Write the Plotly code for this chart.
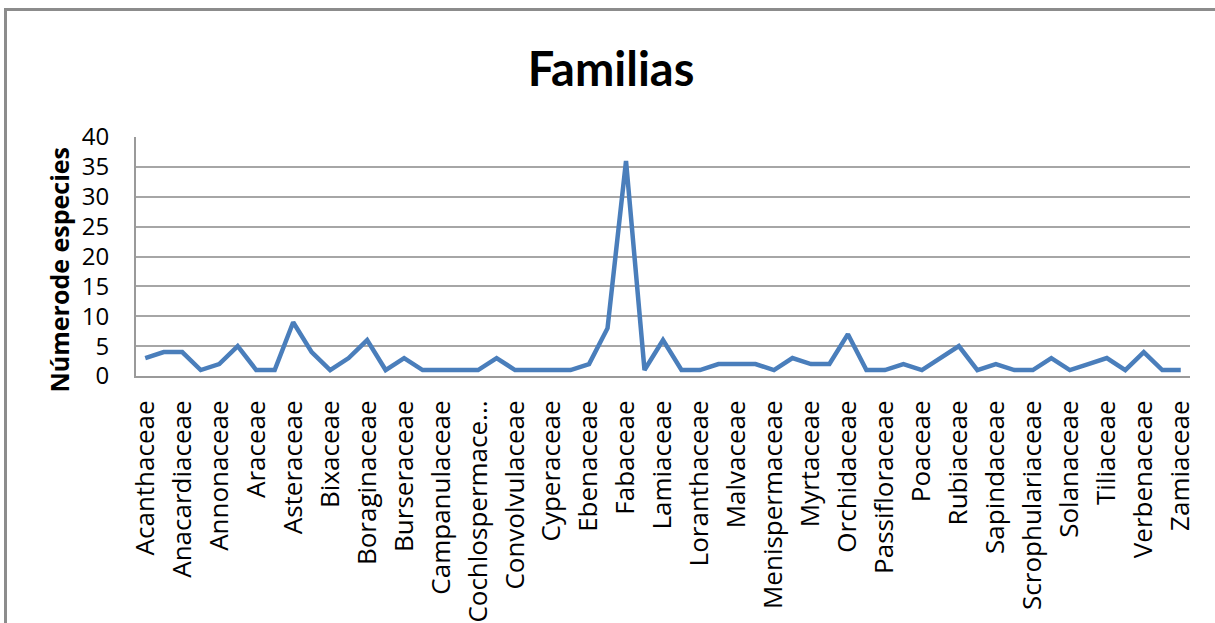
import plotly.graph_objects as go

familias = [
    "Acanthaceae", "Amaranthaceae", "Anacardiaceae", "Anemiaceae", "Annonaceae",
    "Apocynaceae", "Araceae", "Arecaceae", "Asteraceae", "Bignoniaceae",
    "Bixaceae", "Bombacaceae", "Boraginaceae", "Bromeliaceae", "Burseraceae",
    "Cactaceae", "Campanulaceae", "Capparaceae", "Cochlospermaceae", "Combretaceae",
    "Convolvulaceae", "Cucurbitaceae", "Cyperaceae", "Dilleniaceae", "Ebenaceae",
    "Euphorbiaceae", "Fabaceae", "Flacourtiaceae", "Lamiaceae", "Lauraceae",
    "Loranthaceae", "Malpighiaceae", "Malvaceae", "Melastomataceae", "Menispermaceae",
    "Moraceae", "Myrtaceae", "Nyctaginaceae", "Orchidaceae", "Oxalidaceae",
    "Passifloraceae", "Piperaceae", "Poaceae", "Polygonaceae", "Rubiaceae",
    "Rutaceae", "Sapindaceae", "Sapotaceae", "Scrophulariaceae", "Smilacaceae",
    "Solanaceae", "Sterculiaceae", "Tiliaceae", "Ulmaceae", "Verbenaceae",
    "Vitaceae", "Zamiaceae",
]
especies = [
    3, 4, 4, 1, 2, 5, 1, 1, 9, 4,
    1, 3, 6, 1, 3, 1, 1, 1, 1, 3,
    1, 1, 1, 1, 2, 8, 36, 1, 6, 1,
    1, 2, 2, 2, 1, 3, 2, 2, 7, 1,
    1, 2, 1, 3, 5, 1, 2, 1, 1, 3,
    1, 2, 3, 1, 4, 1, 1,
]
# Shown tick labels (every other category, as in the original)
tick_vals = familias[::2]
tick_text = [("Cochlospermace..." if f == "Cochlospermaceae" else f) for f in tick_vals]
y_ticks = [0, 5, 10, 15, 20, 25, 30, 35, 40]

FONT = "Open Sans"
W, H = 1215, 623
ml, mr, mt, mb = 136, 25, 137, 247
pw, ph = W - ml - mr, H - mt - mb

fig = go.Figure()
fig.add_trace(go.Scatter(
    x=familias, y=especies, mode="lines",
    line=dict(color="#4a7ebb", width=4.5),
    hoverinfo="x+y",
))

def px_x(p):
    return (p - ml) / pw

def px_y(p):
    return (H - mb - p) / ph

fig.update_layout(
    width=W, height=H,
    margin=dict(l=ml, r=mr, t=mt, b=mb, autoexpand=False),
    paper_bgcolor="white", plot_bgcolor="white",
    showlegend=False,
    font=dict(family=FONT, color="#000000"),
    title=dict(text="<b>Familias</b>", x=611 / W, xanchor="center",
               y=1 - 70 / H, yanchor="middle",
               font=dict(family="Lato", size=47, color="#000000")),
    xaxis=dict(
        type="category", automargin=False,
        tickmode="array", tickvals=tick_vals, ticktext=tick_text,
        tickangle=-90,
        tickfont=dict(family=FONT, size=26, color="#000000"),
        showgrid=False, showline=True, linecolor="#9a9a9a", linewidth=2,
        ticks="", ticklabelstandoff=12,
        range=[-0.5, len(familias) - 0.5],
        zeroline=False,
    ),
    yaxis=dict(
        automargin=False,
        range=[0, 40], tickmode="array", tickvals=y_ticks,
        tickfont=dict(family=FONT, size=24, color="#000000"),
        showgrid=True, gridcolor="#a6a6a6", gridwidth=1.5,
        showline=True, linecolor="#9a9a9a", linewidth=2,
        ticks="", ticklabelstandoff=20, zeroline=False,
    ),
    annotations=[dict(
        text="<b>Númerode especies</b>", textangle=-90,
        xref="paper", yref="paper", x=px_x(58.5), y=px_y(270),
        xanchor="center", yanchor="middle", showarrow=False,
        font=dict(family=FONT, size=25, color="#000000"),
    )],
    shapes=[dict(
        type="rect", xref="paper", yref="paper",
        x0=px_x(5.5), x1=px_x(1230), y0=px_y(640), y1=px_y(9.5),
        line=dict(color="#8c8c8c", width=3), fillcolor="rgba(0,0,0,0)",
        layer="below",
    )],
)

fig.write_html("out.html", config={"displayModeBar": False},
               post_script="document.body.style.margin='0';")
